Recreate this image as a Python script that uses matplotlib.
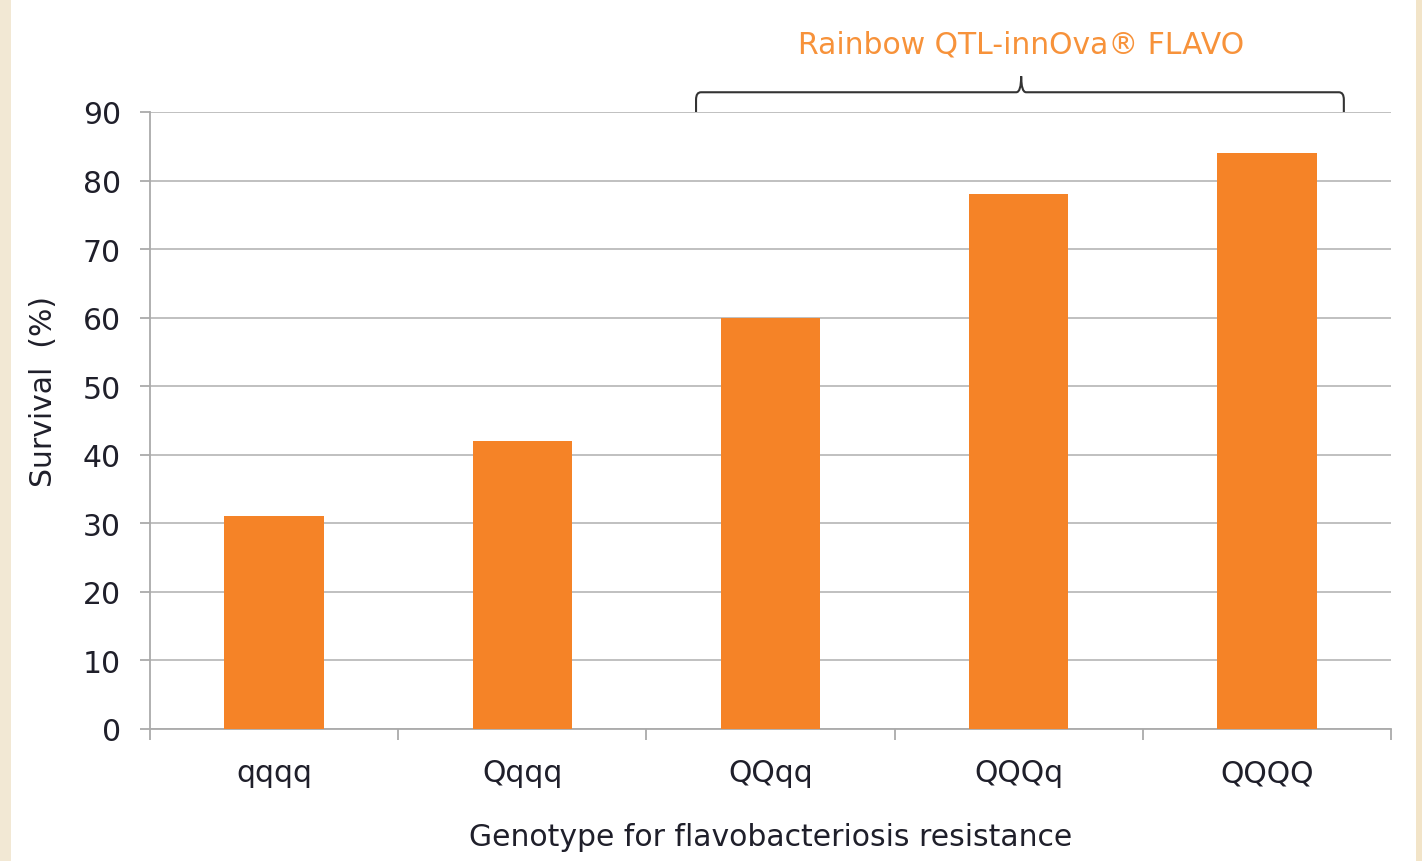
import numpy as np
import matplotlib.pyplot as plt
from matplotlib.patches import Rectangle, PathPatch
from matplotlib.path import Path
from matplotlib.transforms import blended_transform_factory

genotypes = ['qqqq', 'Qqqq', 'QQqq', 'QQQq', 'QQQQ']
survival = [31, 42, 60, 78, 84]
yticks = [0, 10, 20, 30, 40, 50, 60, 70, 80, 90]

orange = '#f58327'
grey = '#bbbbbb'
txt = '#1f1f2a'
fs = 21.5

plt.rcParams['font.family'] = ['DejaVu Sans']

fig = plt.figure(figsize=(14.22, 8.62), dpi=100)
fig.patch.set_facecolor('white')
# beige strips on the page edges
fig.patches.append(Rectangle((0, 0), 11 / 1422, 1, transform=fig.transFigure,
                             facecolor='#f2e8d4', edgecolor='none', zorder=-1))
fig.patches.append(Rectangle((1416 / 1422, 0), 6 / 1422, 1, transform=fig.transFigure,
                             facecolor='#f2e4c8', edgecolor='none', zorder=-1))

ax = fig.add_axes([150 / 1422, 1 - 730 / 862, 1241 / 1422, 617 / 862])
x = np.arange(len(genotypes))
ax.bar(x, survival, width=0.4, color=orange, zorder=3)

ax.set_xlim(-0.5, len(genotypes) - 0.5)
ax.set_ylim(0, 90)
ax.set_yticks(yticks)
ax.yaxis.grid(True, color=grey, linewidth=1.3, zorder=0)

for s in ['top', 'right']:
    ax.spines[s].set_visible(False)
for s in ['left', 'bottom']:
    ax.spines[s].set_color('#aaaaaa')
    ax.spines[s].set_linewidth(1.3)

ax.set_xticks(x)
ax.set_xticklabels(genotypes)
ax.set_xticks(np.arange(len(genotypes) + 1) - 0.5, minor=True)
ax.tick_params(axis='x', which='major', length=0, pad=21, labelsize=fs, labelcolor=txt)
ax.tick_params(axis='x', which='minor', length=8, width=1.3, color='#aaaaaa')
ax.tick_params(axis='y', length=7, width=1.3, color='#aaaaaa', pad=14,
               labelsize=fs, labelcolor=txt)

ax.set_ylabel('Survival  (%)', fontsize=fs, color=txt)
ax.yaxis.set_label_coords(-0.074, 0.548)
ax.set_xlabel('Genotype for flavobacteriosis resistance', fontsize=fs,
              color=txt, labelpad=25)

# curly bracket over the QTL-innOva genotypes
tr = blended_transform_factory(ax.transData, ax.transAxes)
x0, xm, x1 = 1.70, 3.01, 4.31
y0, yb, ys = 1.0, 1.032, 1.058
r = 0.02
verts = [(x0, y0), (x0, yb - 0.012), (x0, yb), (x0 + r, yb),
         (xm - r, yb), (xm, yb), (xm, ys),
         (xm, yb), (xm + r, yb),
         (x1 - r, yb), (x1, yb), (x1, yb - 0.012), (x1, y0)]
codes = [Path.MOVETO, Path.LINETO, Path.CURVE3, Path.CURVE3,
         Path.LINETO, Path.CURVE3, Path.CURVE3,
         Path.CURVE3, Path.CURVE3,
         Path.LINETO, Path.CURVE3, Path.CURVE3, Path.LINETO]
ax.add_patch(PathPatch(Path(verts, codes), transform=tr, facecolor='none',
                       edgecolor='#333333', linewidth=1.5, clip_on=False))
ax.text(xm, 1.11, 'Rainbow QTL-innOva® FLAVO', transform=tr, ha='center',
        va='center', fontsize=fs, color='#f7923a')

fig.savefig('out.png', dpi=100)
